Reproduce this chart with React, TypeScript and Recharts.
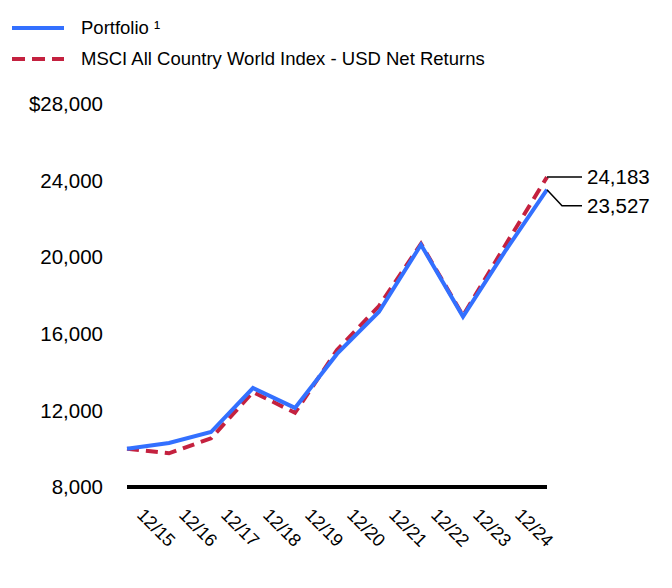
import { LineChart, Line, XAxis, YAxis, LabelList } from "recharts";

const dates = ["12/14", "12/15", "12/16", "12/17", "12/18", "12/19", "12/20", "12/21", "12/22", "12/23", "12/24"];
const portfolio = [10000, 10300, 10870, 13170, 12130, 14950, 17150, 20650, 16900, 20300, 23527];
const msci = [10000, 9760, 10540, 12960, 11880, 15150, 17450, 20700, 16950, 20600, 24183];
const yTicks = [8000, 12000, 16000, 20000, 24000, 28000];

const BLUE = "#3370ff";
const RED = "#c4213f";
const FONT = "Arial, 'Liberation Sans', sans-serif";

const data = dates.map((d, i) => ({ date: d, portfolio: portfolio[i], msci: msci[i] }));

const fmtY = (v: number) => (v === 28000 ? "$" : "") + v.toLocaleString("en-US");

function DateTick(props: any) {
  const { x, y, payload, index } = props;
  if (index === 0) return null;
  const ax = x - 33;
  const ay = y + 29;
  return (
    <text x={ax} y={ay} transform={`rotate(45 ${ax} ${ay})`} fontSize={18} fontFamily={FONT} fill="#000">
      {payload.value}
    </text>
  );
}

function EndLabel(props: any) {
  const { x, y, index, value, drop } = props;
  if (index !== dates.length - 1) return null;
  const ty = y + drop;
  const pts = drop ? `${x},${y} ${x + 15},${ty} ${x + 35},${ty}` : `${x},${y} ${x + 35},${y}`;
  return (
    <g>
      <polyline points={pts} fill="none" stroke="#000" strokeWidth={1.5} />
      <text x={x + 40} y={ty} dy="0.35em" fontSize={20.5} fontFamily={FONT} fill="#000">
        {Number(value).toLocaleString("en-US")}
      </text>
    </g>
  );
}

function LegendRow({ dashed, color, label, top }: { dashed?: boolean; color: string; label: string; top: number }) {
  return (
    <div style={{ position: "absolute", left: 0, top, height: 20, display: "flex", alignItems: "center" }}>
      <svg width={81} height={20}>
        <line x1={12} y1={10} x2={64} y2={10} stroke={color} strokeWidth={4} strokeDasharray={dashed ? "13 7" : undefined} />
      </svg>
      <span style={{ fontSize: 18.5, fontFamily: FONT, color: "#000", whiteSpace: "nowrap" }}>{label}</span>
    </div>
  );
}

export default function App() {
  return (
    <div style={{ position: "absolute", left: 0, top: 0, width: 672, height: 588, background: "#fff" }}>
      <LegendRow color={BLUE} label={"Portfolio \u00b9"} top={18} />
      <LegendRow color={RED} dashed label="MSCI All Country World Index - USD Net Returns" top={49} />
      <LineChart width={672} height={588} data={data} margin={{ top: 104, right: 125, bottom: 71, left: 0 }}>
        <XAxis
          dataKey="date"
          axisLine={{ stroke: "#000", strokeWidth: 4 }}
          tickLine={false}
          tickSize={0}
          tickMargin={0}
          interval={0}
          tick={<DateTick />}
        />
        <YAxis
          width={127}
          domain={[8000, 28000]}
          ticks={yTicks}
          tickFormatter={fmtY}
          axisLine={false}
          tickLine={false}
          tickSize={0}
          tickMargin={24}
          tick={{ fontSize: 20.5, fontFamily: FONT, fill: "#000" }}
        />
        <Line
          dataKey="msci"
          stroke={RED}
          strokeWidth={4}
          strokeDasharray="12 7"
          dot={false}
          activeDot={false}
          isAnimationActive={false}
        >
          <LabelList dataKey="msci" content={(p: any) => <EndLabel {...p} drop={0} />} />
        </Line>
        <Line
          dataKey="portfolio"
          stroke={BLUE}
          strokeWidth={4}
          dot={false}
          activeDot={false}
          isAnimationActive={false}
        >
          <LabelList dataKey="portfolio" content={(p: any) => <EndLabel {...p} drop={16} />} />
        </Line>
      </LineChart>
    </div>
  );
}
